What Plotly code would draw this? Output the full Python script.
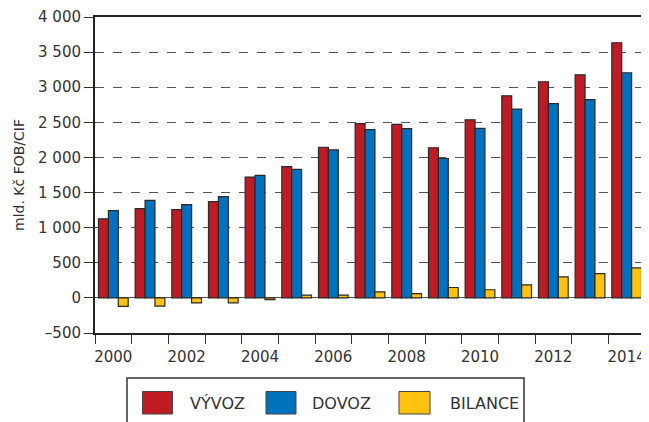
import plotly.graph_objects as go

years = list(range(2000, 2015))
vyvoz = [1125, 1272, 1258, 1372, 1721, 1868, 2145, 2481, 2470, 2138, 2536, 2877, 3078, 3177, 3633]
dovoz = [1242, 1388, 1328, 1442, 1746, 1830, 2107, 2396, 2411, 1985, 2413, 2688, 2765, 2822, 3206]
bilance = [-122, -118, -72, -70, -24, 38, 38, 86, 60, 148, 116, 186, 300, 346, 428]

series_names = ["VÝVOZ", "DOVOZ", "BILANCE"]
colors = ["#BE1B24", "#0071BC", "#FFC20E"]
ytick_vals = [-500, 0, 500, 1000, 1500, 2000, 2500, 3000, 3500, 4000]
ytick_text = ["–500", "0", "500", "1 000", "1 500", "2 000", "2 500", "3 000", "3 500", "4 000"]
xtick_vals = [2000, 2002, 2004, 2006, 2008, 2010, 2012, 2014]

FONT = "DejaVu Sans"
TXT = "#333333"

# page body has an 8px margin; figure is sized/positioned to compensate
W, H = 641, 414
ML, MR, MT, MB = 87, 4, 9, 89

fig = go.Figure()
for name, vals, col in zip(series_names, [vyvoz, dovoz, bilance], colors):
    fig.add_trace(go.Bar(
        x=years, y=vals, name=name,
        marker=dict(color=col, line=dict(color="#2a2a2a", width=1.2)),
        showlegend=False,
    ))

fig.update_layout(
    width=W, height=H,
    margin=dict(l=ML, r=MR, t=MT, b=MB),
    paper_bgcolor="white", plot_bgcolor="white",
    barmode="group", bargap=0.19, bargroupgap=0,
    font=dict(family=FONT, size=15, color=TXT),
)

fig.update_xaxes(
    automargin=False,
    range=[1999.5, 2014.5],
    tickmode="array", tickvals=xtick_vals,
    ticks="outside", ticklen=9, tickcolor="rgba(0,0,0,0)",
    minor=dict(tickmode="linear", tick0=1999.5, dtick=1, ticks="outside",
               ticklen=9, tickcolor="#333333", tickwidth=1, showgrid=False),
    showline=True, linecolor="#222222", linewidth=2, mirror=True,
    showgrid=False, zeroline=False,
    tickfont=dict(family=FONT, size=15, color=TXT),
)

fig.update_yaxes(
    automargin=False,
    range=[-500, 4000],
    tickmode="array", tickvals=ytick_vals, ticktext=ytick_text,
    ticks="outside", ticklen=9, tickcolor="#333333", tickwidth=1,
    showline=True, linecolor="#222222", linewidth=2, mirror=True,
    showgrid=True, gridcolor="#555555", gridwidth=1, griddash="dash",
    zeroline=True, zerolinecolor="#555555", zerolinewidth=1.2,
    tickfont=dict(family=FONT, size=15, color=TXT),
    title=dict(text="mld. Kč FOB/CIF", font=dict(family=FONT, size=14, color=TXT), standoff=10),
)

# right frame edge drawn grey as in the reference
fig.add_shape(type="line", xref="paper", yref="paper", x0=1, x1=1, y0=0, y1=1,
              line=dict(color="#777777", width=2.5))

# Custom legend box, positioned in paper coordinates from target page pixels
PW = W - ML - MR
PH = H - MT - MB

def px_x(p):
    return (p - 8 - ML) / PW

def px_y(p):
    return (H - MB + 8 - p) / PH

fig.add_shape(type="rect", xref="paper", yref="paper",
              x0=px_x(127), x1=px_x(524), y0=px_y(378), y1=px_y(425),
              line=dict(color="#333333", width=1.5), fillcolor="white")
legend_sq = [(142.5, 172.5), (266, 296), (399, 430)]
legend_txt = [188, 310, 448]
for (a, b), tx, name, col in zip(legend_sq, legend_txt, series_names, colors):
    fig.add_shape(type="rect", xref="paper", yref="paper",
                  x0=px_x(a), x1=px_x(b), y0=px_y(391.5), y1=px_y(414),
                  line=dict(color="#444444", width=1), fillcolor=col)
    fig.add_annotation(xref="paper", yref="paper", x=px_x(tx), y=px_y(403),
                       text=name, showarrow=False, xanchor="left", yanchor="middle",
                       font=dict(family=FONT, size=16, color=TXT))

fig.write_html("out.html")
